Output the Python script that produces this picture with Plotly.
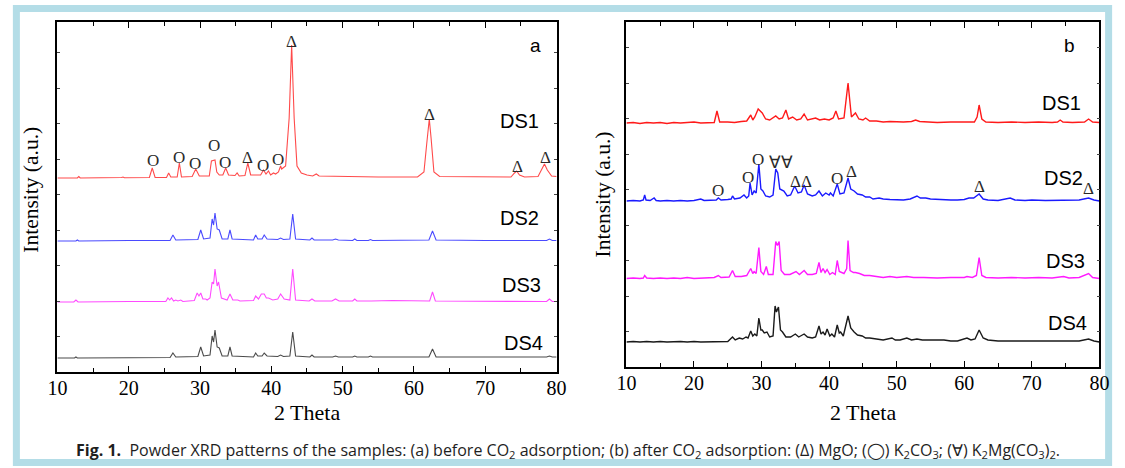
import plotly.graph_objects as go

W, H = 1125, 468

# ---------------------------------------------------------------------------
# Powder XRD patterns, (2θ, intensity above the pattern's own baseline, a.u.)
# (a) before CO2 adsorption
# ---------------------------------------------------------------------------
a_ds1 = [(10, 0), (12.8, 0), (13.0, 1.5), (13.2, 0), (19, 0.5), (19.2, 1), (19.4, 0.3),
         (22.9, 0.5), (23.3, 10), (23.7, 0.5), (25.3, 0.5), (25.6, 5), (25.9, 1), (26.8, 1),
         (27.1, 15), (27.4, 1), (28.9, 1.5), (29.4, 9), (29.9, 2), (31.3, 2), (31.6, 17),
         (32.1, 18), (32.35, 6), (32.7, 3), (33.2, 3), (33.6, 10), (34.0, 3), (34.9, 2.5),
         (35.2, 5), (35.5, 2), (36.3, 2.5), (36.7, 15), (37.1, 3), (38.5, 3), (38.9, 8),
         (39.25, 4), (39.6, 7), (39.9, 3), (40.3, 5), (40.6, 4), (41.0, 6), (41.3, 12),
         (41.45, 9), (41.6, 10), (42.0, 12), (42.5, 60), (42.85, 133), (43.2, 60), (43.6, 12),
         (44.2, 5), (45.0, 3), (45.8, 2), (46.3, 4), (46.7, 2), (50, 1.5), (55, 1), (60.5, 1),
         (61.4, 6), (61.8, 35), (62.15, 59), (62.4, 40), (62.8, 6), (63.6, 1.5), (70, 1),
         (73.6, 1), (74.1, 5), (74.4, 7), (74.8, 3), (75.5, 1), (77.4, 1.5), (78.0, 10),
         (78.3, 14), (78.7, 8), (79.3, 2), (80, 1.5)]

a_ds2 = [(10, 0), (12.6, 0), (12.8, 1), (13, 0), (20, 0.5), (25.8, 0.5), (26.2, 6), (26.6, 1),
         (29.7, 1.5), (30.1, 11), (30.5, 2), (31.4, 3), (31.7, 22), (31.9, 16), (32.1, 28),
         (32.4, 12), (32.7, 11), (33.1, 2), (33.9, 2), (34.2, 11), (34.5, 2), (37.5, 1),
         (37.8, 6), (38.1, 2), (38.7, 2), (39.0, 6), (39.4, 2), (40.9, 1.5), (41.3, 3),
         (41.7, 1.5), (42.6, 2), (43.0, 27), (43.4, 2), (45.4, 1), (45.7, 3), (46.0, 1),
         (48.6, 1), (49.0, 2), (49.4, 1), (51.4, 0.5), (51.7, 2), (52.0, 0.5), (53.6, 0.5),
         (53.9, 1.5), (54.2, 0.5), (56.9, 0.5), (57.2, 1), (57.5, 0.5), (62.1, 1), (62.6, 10),
         (63.1, 1), (70, 0.5), (78.6, 0.5), (79.0, 2), (79.4, 0.5), (80, 0.5)]

a_ds3 = [(10, 0), (12.3, 0), (12.6, 2), (12.9, 0), (20, 0.5), (25.2, 0.5), (25.5, 4), (25.75, 2),
         (26.0, 4), (26.3, 1), (26.6, 2), (26.9, 1), (27.3, 2), (27.6, 0.5), (29.2, 1.5),
         (29.6, 9), (29.85, 6), (30.1, 9), (30.4, 3), (30.8, 3), (31.0, 2), (31.4, 4),
         (31.7, 20), (31.9, 18), (32.1, 33), (32.4, 16), (32.6, 20), (33.0, 4), (33.8, 2),
         (34.2, 8), (34.6, 2), (35.3, 2), (35.6, 1), (37.5, 1.5), (37.8, 6), (38.2, 3),
         (38.6, 8), (39.0, 8), (39.3, 4), (39.6, 4), (40.2, 2), (40.9, 3), (41.3, 8), (41.8, 3),
         (42.6, 2), (43.0, 33), (43.4, 2), (45.3, 1), (45.7, 3), (46.1, 1), (48.5, 1), (49.0, 3),
         (49.5, 1), (51.4, 1), (51.7, 3), (52.0, 1), (54, 1), (57, 1.5), (62.2, 1), (62.6, 10),
         (63.0, 1), (66, 1), (70, 1), (72, 1), (78.6, 0.5), (79.0, 3), (79.4, 0.5), (80, 0.5)]

a_ds4 = [(10, 0), (12.4, 0), (12.6, 1), (12.8, 0), (20, 0.3), (25.8, 0.5), (26.2, 5), (26.6, 1),
         (29.7, 1.5), (30.1, 11), (30.5, 2), (31.4, 3), (31.7, 22), (31.9, 16), (32.1, 28),
         (32.4, 11), (32.7, 10), (33.1, 2), (33.9, 2), (34.2, 11), (34.5, 2), (37.5, 1),
         (37.8, 5), (38.1, 2), (38.7, 2), (39.0, 5), (39.4, 2), (40.9, 1.5), (41.3, 3),
         (41.7, 1.5), (42.6, 2), (43.0, 26), (43.4, 2), (45.4, 1), (45.7, 3), (46.0, 1),
         (48.6, 1), (49.0, 2), (49.4, 1), (51.4, 1), (51.7, 2), (52.0, 1), (53.6, 1), (53.9, 2),
         (54.2, 1), (55.0, 1), (55.5, 1.5), (56, 1), (57.2, 1.5), (62.1, 1), (62.6, 9), (63.1, 1),
         (66, 1), (70, 1), (72, 1.5), (78.6, 1), (79.0, 2), (79.4, 1), (80, 1)]

# (b) after CO2 adsorption
b_ds1 = [(10, 0), (11, 0.5), (12, -0.5), (13, 0.5), (14, 0), (15, 0.5), (16, -0.5), (17, 0.5),
         (18, 0), (19, 0.5), (20, 1), (21, 0), (22, 0.5), (23.0, 0.5), (23.4, 12), (23.8, 1),
         (25, 1), (26, 0.5), (27, 1.5), (27.8, 2), (28.4, 8), (28.7, 3), (29.0, 6), (29.5, 14),
         (30.1, 10), (30.6, 4), (31.2, 3), (31.6, 5), (32.1, 7), (32.6, 4), (33.1, 5),
         (33.6, 13), (34.0, 4), (34.6, 6), (35.2, 3), (35.8, 4), (36.3, 9), (36.8, 3),
         (37.5, 4), (38.0, 5), (38.6, 3), (39.3, 4), (40.0, 3), (40.6, 5), (41.0, 12),
         (41.4, 4), (42.2, 5), (42.8, 40), (43.3, 6), (43.9, 10), (44.4, 4), (45.0, 3),
         (45.4, 5), (46.0, 2), (47, 2), (48, 1), (49, 1.5), (50, 1), (51, 1), (52.2, 1.5),
         (52.8, 3), (53.4, 1.5), (55, 1), (56, 0.5), (58, 1), (60, 1), (61.5, 1), (61.9, 6),
         (62.2, 18), (62.6, 4), (63.2, 1), (65, 0.5), (67, 1), (69, 0.5), (71, 1), (73, 0.5),
         (73.8, 1), (74.2, 3), (74.6, 1), (76, 0.5), (77.8, 1), (78.4, 4), (79, 1), (80, 0.5)]

b_ds2 = [(10, 0), (11, 0.5), (12, 0), (12.5, 1), (12.7, 6), (12.9, 1), (13.5, 0.5), (14.1, 3),
         (14.4, 0.5), (15, 0), (16, 0.5), (17, 0), (18, 0.5), (19, 0), (20, 0.5), (21, 2),
         (21.5, 0.5), (22.5, 1), (23.3, 1), (23.6, 3), (24, 1), (25, 1.5), (25.5, 2), (25.7, 5),
         (26, 2), (26.8, 3), (27.4, 6), (27.8, 3), (28.1, 5), (28.3, 18), (28.6, 6), (28.9, 10),
         (29.2, 8), (29.6, 37), (29.9, 12), (30.2, 10), (30.6, 5), (31.2, 4), (31.7, 6),
         (32.1, 32), (32.4, 28), (32.7, 12), (33.3, 10), (33.8, 5), (34.3, 6), (34.9, 15),
         (35.4, 8), (35.9, 9), (36.3, 16), (36.8, 7), (37.5, 5), (38.0, 6), (38.5, 10),
         (39.0, 5), (39.5, 8), (40.0, 6), (40.2, 8), (40.6, 5), (41.2, 17), (41.6, 7),
         (42.2, 8), (42.8, 23), (43.2, 12), (43.7, 10), (44.2, 7), (44.9, 6), (45.4, 4),
         (46.0, 4), (46.5, 2), (47.4, 3), (48, 2), (49, 1.5), (50, 1.5), (51, 1), (52, 2),
         (53, 5), (53.5, 3), (54.3, 3), (55, 2), (56, 1.5), (57, 1.5), (58, 1), (59, 1),
         (60, 1.5), (60.7, 3), (61.4, 3), (62.2, 7), (62.8, 2), (63.5, 1), (65, 0.5),
         (66.8, 3), (67.5, 1), (69, 0.5), (70, 1), (72, 0.5), (74, 1), (75, 0.5), (77, 1),
         (78.4, 3), (79.2, 1), (80, 0)]

b_ds3 = [(10, 0), (11, 0.5), (12, 0), (12.5, 0.5), (12.7, 3), (13, 0.5), (14, 0), (15, 0.5),
         (16, 0), (17, 0.5), (18, 0), (19, 1), (20, 0), (21, 0.5), (22, 0.5), (23, 1), (23.6, 3),
         (24, 1), (25.2, 1.5), (25.7, 8), (26.1, 2), (27, 2), (27.8, 3), (28.2, 8), (28.4, 10),
         (28.7, 5), (28.9, 7), (29.2, 5), (29.6, 31), (29.9, 7), (30.3, 4), (30.7, 12),
         (31.0, 4), (31.7, 4), (32.0, 30), (32.1, 37), (32.35, 33), (32.6, 37), (32.9, 8),
         (33.4, 4), (34.2, 4), (35.1, 7), (35.6, 4), (36.3, 8), (36.8, 4), (37.5, 4), (38.1, 5),
         (38.5, 16), (38.8, 6), (39.1, 10), (39.4, 6), (39.7, 9), (40.1, 4), (40.5, 6),
         (40.9, 4), (41.2, 18), (41.5, 7), (42.2, 5), (42.6, 10), (42.8, 38), (43.1, 8),
         (43.6, 6), (43.9, 6), (44.5, 5), (45.2, 3), (46, 3), (47, 2), (48, 1), (49, 2), (50, 1),
         (51.5, 2), (52.5, 1), (54, 1), (56, 0.5), (58, 1), (60, 1), (60.4, 2), (61.2, 1),
         (61.8, 3), (62.2, 21), (62.6, 3), (63.2, 1), (65, 0.5), (67, 1), (69, 0.5), (71, 1),
         (73, 0.5), (74.7, 2), (75.5, 0.5), (77, 1), (78.4, 5), (79, 1), (80, 0)]

b_ds4 = [(10, 0), (11, 0.5), (12, 0), (13, 0.5), (14, 0), (15, 0.5), (16, 0), (17, 0.5),
         (18, 0.5), (19, 0), (20, 0.5), (21, 0), (22, 0), (23, 0.5), (24, 0), (25, 0.5),
         (25.7, 5), (26.1, 2), (26.7, 4), (27.2, 3), (27.7, 5), (28.0, 4), (28.4, 11), (28.7, 6),
         (29.0, 8), (29.3, 6), (29.6, 24), (29.9, 12), (30.1, 12), (30.4, 9), (30.8, 10),
         (31.2, 5), (31.7, 6), (32.0, 36), (32.2, 30), (32.5, 35), (32.8, 12), (33.1, 10),
         (33.6, 5), (34.3, 5), (35.0, 8), (35.5, 5), (36.3, 8), (36.8, 5), (37.5, 4), (38.0, 5),
         (38.5, 16), (38.8, 8), (39.1, 10), (39.4, 7), (39.7, 13), (40.1, 6), (40.4, 8),
         (40.8, 5), (41.2, 17), (41.5, 9), (41.7, 10), (42.1, 6), (42.8, 26), (43.2, 14),
         (43.7, 10), (44.2, 7), (44.9, 6), (45.4, 4), (46, 4), (47, 3), (48, 2), (49.3, 4),
         (49.8, 2), (50.5, 2), (51.5, 4), (52.2, 2), (53, 3), (53.8, 2), (55, 2), (56, 1.5),
         (57, 2), (58, 1), (59, 1), (60.4, 4), (61, 2), (61.6, 3), (62.2, 12), (62.8, 4),
         (63.5, 2), (65, 1), (67, 1), (69, 0.5), (71, 1), (73, 1), (75, 1), (77, 1), (78.4, 3),
         (79.2, 1), (80, 0)]

sample_names = ["DS1", "DS2", "DS3", "DS4"]
x_ticks = [10, 20, 30, 40, 50, 60, 70, 80]

# phase markers: (symbol, 2θ)
a_marks = [("O", 23.4), ("O", 27.1), ("O", 29.35), ("O", 31.9), ("O", 33.55), ("Δ", 36.6),
           ("O", 38.9), ("O", 41.0), ("Δ", 42.8), ("Δ", 62.2), ("Δ", 74.5), ("Δ", 78.45)]
b_marks = [("O", 23.6), ("O", 28.0), ("O", 29.5), ("∀∀", 32.9), ("ΔΔ", 35.85), ("O", 41.15),
           ("Δ", 43.25), ("Δ", 62.25), ("Δ", 78.4)]

# ---------------------------------------------------------------------------
# layout helpers (pixel -> paper)
# ---------------------------------------------------------------------------
SX, CX = 0.9844, 9.2   # horizontal pixel calibration of the page


def fx(px):
    return (px - CX) / SX / W


def fy(py):
    return (H - py) / H


A_X0, A_X1, A_Y0, A_Y1 = 56.7, 557.0, 372.0, 22.0
B_X0, B_X1, B_Y0, B_Y1 = 627.0, 1101.0, 367.0, 22.0

a_offsets = [194, 131, 70, 14]
b_offsets = [244, 166, 88.5, 25]
a_colors = ["#ff4a4a", "#4a4aff", "#ff4aff", "#4a4a4a"]
b_colors = ["#ff1a1a", "#1a1aff", "#ff1aff", "#1a1a1a"]
# vertical pixel position of each marker label
a_mark_y = [160.7, 157, 163, 145, 162, 157, 165, 159, 41, 114, 166, 157]
b_mark_y = [190, 177, 159, 162, 181, 178, 171, 186, 188]

fig = go.Figure()

for pattern, off, col, name in zip([a_ds1, a_ds2, a_ds3, a_ds4], a_offsets, a_colors, sample_names):
    fig.add_trace(go.Scatter(
        x=[p[0] for p in pattern], y=[p[1] + off for p in pattern],
        mode="lines", line=dict(color=col, width=1.1), name=name,
        xaxis="x", yaxis="y", hoverinfo="skip"))

for pattern, off, col, name in zip([b_ds1, b_ds2, b_ds3, b_ds4], b_offsets, b_colors, sample_names):
    fig.add_trace(go.Scatter(
        x=[p[0] for p in pattern], y=[p[1] + off for p in pattern],
        mode="lines", line=dict(color=col, width=1.4), name=name,
        xaxis="x2", yaxis="y2", hoverinfo="skip"))

serif = "Liberation Serif, Times New Roman, serif"
sans = "Liberation Sans, Arial, sans-serif"

def xaxis_cfg(x0, x1):
    return dict(
        domain=[fx(x0), fx(x1)], range=[10, 80], tickvals=x_ticks,
        ticks="inside", ticklen=6, tickwidth=1.2, tickcolor="black",
        minor=dict(dtick=5, tick0=0, ticks="inside", ticklen=4, tickwidth=1, tickcolor="black"),
        showline=True, linecolor="black", linewidth=1.6, mirror="allticks",
        showgrid=False, zeroline=False, ticklabelstandoff=-3,
        tickfont=dict(family=serif, size=20, color="black"),
    )


def yaxis_cfg(y0, y1, top):
    return dict(
        domain=[fy(y0), fy(y1)], range=[0, top], showticklabels=False,
        ticks="inside", ticklen=3, tickwidth=1, tickcolor="#444", dtick=35.5, tick0=0,
        showline=True, linecolor="black", linewidth=1.6, mirror="allticks",
        showgrid=False, zeroline=False,
    )


fig.update_layout(
    width=W, height=H, margin=dict(l=0, r=0, t=0, b=0),
    paper_bgcolor="white", plot_bgcolor="white", showlegend=False,
    xaxis=dict(**xaxis_cfg(A_X0, A_X1), anchor="y"),
    yaxis=dict(**yaxis_cfg(A_Y0, A_Y1, A_Y0 - A_Y1), anchor="x"),
    xaxis2=dict(**xaxis_cfg(B_X0, B_X1), anchor="y2"),
    yaxis2=dict(**yaxis_cfg(B_Y0, B_Y1, B_Y0 - B_Y1), anchor="x2"),
)

ann = []

def paper_text(text, px, py, size, family, color="black", angle=0):
    ann.append(dict(text=text, x=fx(px), y=fy(py), xref="paper", yref="paper",
                    xanchor="center", yanchor="middle", showarrow=False, textangle=angle,
                    font=dict(size=size, family=family, color=color)))

# axis titles
paper_text("2 Theta", (A_X0 + A_X1) / 2, 412, 22, serif)
paper_text("2 Theta", (B_X0 + B_X1) / 2, 412, 22, serif)
paper_text("Intensity (a.u.)", 30, 190, 21.5, serif, angle=-90)
paper_text("Intensity (a.u.)", 604, 194, 21.5, serif, angle=-90)

# panel letters and sample names
paper_text("a", 536, 46, 19, sans)
paper_text("b", 1071, 46, 19, sans)
for name, (px, py) in zip(sample_names, [(520, 121), (520, 218), (522, 285), (524, 343)]):
    paper_text(name, px, py, 20, sans)
for name, (px, py) in zip(sample_names, [(1063, 103), (1065, 178), (1067, 261), (1069, 323)]):
    paper_text(name, px, py, 20, sans)

# phase markers
for (sym, th), py in zip(a_marks, a_mark_y):
    ann.append(dict(text=sym, x=th, y=A_Y0 - py, xref="x", yref="y", showarrow=False,
                    xanchor="center", yanchor="middle",
                    font=dict(size=17, family=serif, color="#2a2a2a")))
for (sym, th), py in zip(b_marks, b_mark_y):
    ann.append(dict(text=sym, x=th, y=B_Y0 - py, xref="x2", yref="y2", showarrow=False,
                    xanchor="center", yanchor="middle",
                    font=dict(size=17, family=serif, color="#2a2a2a")))

# figure caption
caption = ("<b>Fig. 1.</b>  Powder XRD patterns of the samples: (a) before CO<sub>2</sub> adsorption; "
           "(b) after CO<sub>2</sub> adsorption: (Δ) MgO; (◯) K<sub>2</sub>CO<sub>3</sub>; "
           "(∀) K<sub>2</sub>Mg(CO<sub>3</sub>)<sub>2</sub>.")
paper_text(caption, 568, 450, 16, "Open Sans, Noto Sans, sans-serif", color="#1e1e1e")

fig.update_layout(annotations=ann)

# light-blue frame around the whole figure
fig.add_shape(type="rect", xref="paper", yref="paper",
              x0=6.5 / W, x1=1118.5 / W, y0=fy(462.5), y1=fy(8.5),
              line=dict(color="#b4dde7", width=7), fillcolor="rgba(0,0,0,0)", layer="below")

fig.write_html(
    "out.html",
    post_script="document.body.style.margin='0';document.body.style.overflow='hidden';",
)
